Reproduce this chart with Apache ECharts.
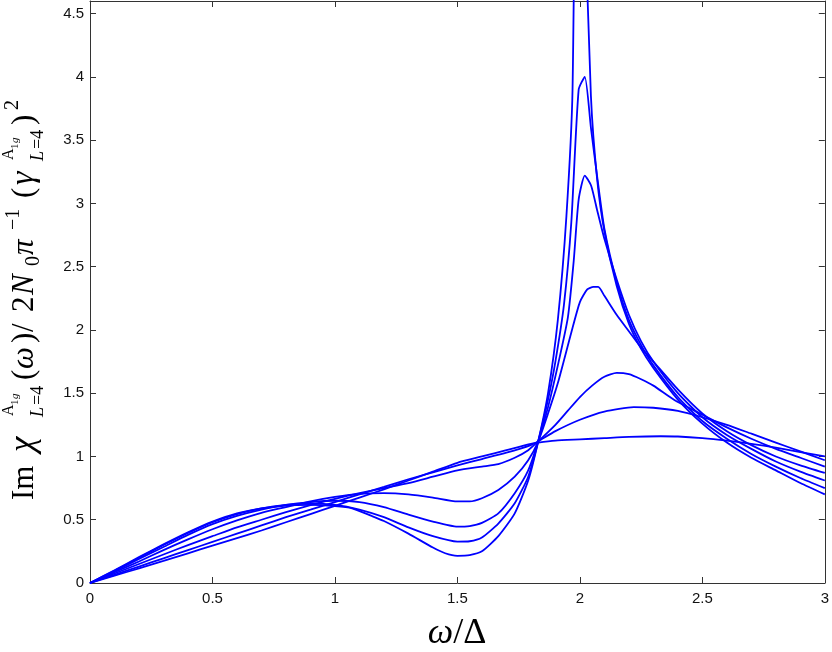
<!DOCTYPE html>
<html><head><meta charset="utf-8">
<script src="https://cdn.jsdelivr.net/npm/echarts@6/dist/echarts.min.js"></script>
<style>html,body{margin:0;padding:0;background:#fff}#c{width:832px;height:652px}</style>
</head><body><div id="c"></div>
<script>
var xTicks = [0, 0.5, 1, 1.5, 2, 2.5, 3];
var yTicks = [0, 0.5, 1, 1.5, 2, 2.5, 3, 3.5, 4, 4.5];

var curveA = [[0,0],[0.1,0.1],[0.2,0.205],[0.3,0.305],[0.4,0.4],[0.5,0.485],[0.6,0.55],[0.7,0.59],[0.8,0.612],[0.9,0.617],[1.0,0.607],[1.07,0.59],[1.15,0.53],[1.2,0.49],[1.3,0.39],[1.4,0.28],[1.45,0.235],[1.5,0.215],[1.55,0.22],[1.6,0.25],[1.667,0.37],[1.734,0.55],[1.789,0.81],[1.83,1.12],[1.87,1.5],[1.91,2.08],[1.945,2.9],[1.97,3.9],[1.995,8.0],[2.02,5.4],[2.045,3.85],[2.07,3.2],[2.1,2.78],[2.15,2.35],[2.2,2.05],[2.25,1.85],[2.3,1.7],[2.4,1.45],[2.5,1.26],[2.6,1.11],[2.7,0.99],[2.8,0.89],[2.9,0.79],[3.0,0.70]];
var curveB = [[0,0],[0.1,0.097],[0.2,0.2],[0.3,0.3],[0.4,0.395],[0.5,0.48],[0.6,0.545],[0.7,0.59],[0.8,0.617],[0.9,0.627],[1.0,0.617],[1.1,0.58],[1.2,0.52],[1.3,0.44],[1.4,0.37],[1.5,0.327],[1.55,0.33],[1.6,0.36],[1.667,0.47],[1.734,0.63],[1.789,0.84],[1.83,1.12],[1.87,1.45],[1.9,1.75],[1.935,2.2],[1.965,2.85],[1.995,3.9],[2.02,4.0],[2.045,3.6],[2.07,3.22],[2.1,2.8],[2.15,2.38],[2.2,2.08],[2.25,1.88],[2.3,1.72],[2.4,1.47],[2.5,1.28],[2.6,1.14],[2.7,1.02],[2.8,0.92],[2.9,0.83],[3.0,0.75]];
var curveC = [[0,0],[0.1,0.092],[0.2,0.19],[0.3,0.285],[0.4,0.38],[0.5,0.465],[0.6,0.53],[0.7,0.58],[0.8,0.618],[0.9,0.64],[1.0,0.65],[1.1,0.64],[1.2,0.6],[1.3,0.54],[1.4,0.485],[1.5,0.445],[1.55,0.45],[1.6,0.475],[1.667,0.55],[1.734,0.71],[1.789,0.89],[1.83,1.12],[1.87,1.39],[1.91,1.72],[1.951,2.1],[1.975,2.55],[1.995,3.03],[2.02,3.22],[2.046,3.14],[2.07,2.95],[2.1,2.72],[2.15,2.4],[2.2,2.12],[2.25,1.91],[2.3,1.75],[2.4,1.5],[2.5,1.31],[2.6,1.17],[2.7,1.06],[2.8,0.96],[2.9,0.88],[3.0,0.81]];
var curveD = [[0,0],[0.1,0.085],[0.2,0.17],[0.3,0.26],[0.4,0.345],[0.5,0.425],[0.6,0.495],[0.7,0.555],[0.8,0.6],[0.9,0.645],[1.0,0.68],[1.1,0.705],[1.2,0.71],[1.3,0.7],[1.4,0.675],[1.5,0.645],[1.55,0.645],[1.6,0.67],[1.667,0.735],[1.734,0.84],[1.789,0.97],[1.83,1.12],[1.87,1.34],[1.91,1.58],[1.965,1.98],[2.0,2.22],[2.03,2.32],[2.055,2.34],[2.075,2.34],[2.1,2.27],[2.15,2.12],[2.2,1.99],[2.25,1.86],[2.3,1.75],[2.4,1.53],[2.5,1.34],[2.6,1.2],[2.7,1.09],[2.8,1.0],[2.9,0.93],[3.0,0.87]];
var curveE = [[0,0],[0.1,0.075],[0.2,0.15],[0.3,0.225],[0.4,0.3],[0.5,0.37],[0.6,0.44],[0.7,0.5],[0.8,0.56],[0.9,0.615],[1.0,0.665],[1.1,0.71],[1.2,0.75],[1.3,0.79],[1.4,0.84],[1.5,0.89],[1.6,0.92],[1.667,0.94],[1.734,0.99],[1.789,1.05],[1.83,1.12],[1.9,1.25],[1.95,1.36],[2.0,1.47],[2.05,1.56],[2.1,1.63],[2.15,1.66],[2.2,1.65],[2.25,1.61],[2.3,1.56],[2.36,1.48],[2.4,1.43],[2.5,1.33],[2.6,1.23],[2.7,1.14],[2.8,1.06],[2.9,0.99],[3.0,0.92]];
var curveF = [[0,0],[0.1,0.065],[0.2,0.13],[0.3,0.195],[0.4,0.26],[0.5,0.325],[0.6,0.39],[0.7,0.455],[0.8,0.52],[0.9,0.58],[1.0,0.64],[1.1,0.7],[1.2,0.76],[1.3,0.82],[1.4,0.875],[1.5,0.93],[1.6,0.98],[1.7,1.03],[1.8,1.09],[1.83,1.12],[1.9,1.2],[2.0,1.29],[2.1,1.355],[2.22,1.39],[2.3,1.385],[2.4,1.36],[2.5,1.31],[2.6,1.25],[2.7,1.18],[2.8,1.11],[2.9,1.04],[3.0,0.97]];
var curveG = [[0,0],[0.1,0.058],[0.2,0.116],[0.3,0.175],[0.4,0.235],[0.5,0.295],[0.6,0.355],[0.7,0.415],[0.8,0.48],[0.9,0.545],[1.0,0.61],[1.1,0.675],[1.2,0.74],[1.3,0.81],[1.4,0.88],[1.5,0.95],[1.6,1.0],[1.7,1.05],[1.8,1.1],[1.83,1.11],[1.9,1.125],[2.0,1.135],[2.1,1.145],[2.2,1.155],[2.33,1.16],[2.4,1.158],[2.5,1.145],[2.6,1.125],[2.7,1.1],[2.8,1.07],[2.9,1.035],[3.0,1.0]];

var curves = [curveA, curveB, curveC, curveD, curveE, curveF, curveG];

var chart = echarts.init(document.getElementById('c'), null, {renderer: 'canvas'});
var axisCol = '#333';
var labFont = {fontFamily: 'Liberation Sans, Arial, sans-serif', fontSize: 15, color: '#111'};
function xAx(pos, show) {
  return {type: 'value', min: 0, max: 3, interval: 0.5, position: pos,
    axisLine: {show: true, onZero: false, lineStyle: {color: axisCol, width: 1}},
    axisTick: {show: true, inside: true, length: 6, lineStyle: {color: axisCol}},
    axisLabel: Object.assign({show: show, margin: 8, formatter: function(v){return String(v);}}, labFont),
    splitLine: {show: false}};
}
function yAx(pos, show) {
  return {type: 'value', min: 0, max: 4.6, interval: 0.5, position: pos,
    axisLine: {show: true, onZero: false, lineStyle: {color: axisCol, width: 1}},
    axisTick: {show: true, inside: true, length: 6, lineStyle: {color: axisCol}},
    axisLabel: Object.assign({show: show, margin: 6, showMaxLabel: false,
      formatter: function(v){ return yTicks.indexOf(+v.toFixed(2)) >= 0 ? String(+v.toFixed(2)) : ''; }}, labFont),
    splitLine: {show: false}};
}
var serif = '"Liberation Serif", "DejaVu Serif", serif';
// x: position along the reading direction, b: baseline offset (negative = raised)
function t(text, x, b, size, italic) {
  return {type: 'text', style: {text: text, x: x, y: b - 0.8 * size,
    font: (italic ? 'italic ' : '') + size + 'px ' + serif, fill: '#000'}};
}
var yLabel = [
  t('Im', 0, 0, 31, false),
  t('\u03c7', 48, 0, 35, true),
  t('A', 84, -20, 16, false),
  t('1', 95, -16, 11, false),
  t('g', 101, -16, 11, true),
  t('L', 83, 10, 18, true),
  t('=4', 95, 10, 18, false),
  t('(', 120, 0, 31, false),
  t('\u03c9', 131, 0, 31, true),
  t(')', 157, 0, 31, false),
  t('/', 168, 0, 31, false),
  t('2', 188, 0, 31, false),
  t('N', 205, 0, 31, true),
  t('0', 234, 6, 20, false),
  t('\u03c0', 245, 0, 31, true),
  t('\u22121', 270, -14, 20, false),
  t('(', 302, 0, 31, false),
  t('\u03b3', 315, 0, 34, true),
  t('A', 340, -20, 16, false),
  t('1', 351, -16, 11, false),
  t('g', 357, -16, 11, true),
  t('L', 339, 10, 18, true),
  t('=4', 351, 10, 18, false),
  t(')', 375, 0, 31, false),
  t('2', 390, -15, 20, false)
];

var option = {
  backgroundColor: '#fff',
  animation: false,
  grid: {left: 90, right: 4, top: 1, bottom: 69, containLabel: false},
  xAxis: [xAx('bottom', true), xAx('top', false)],
  yAxis: [yAx('left', true), yAx('right', false)],
  series: curves.map(function(d){
    return {type: 'line', data: d, xAxisIndex: 0, yAxisIndex: 0, showSymbol: false, symbol: 'none',
      smooth: 0.2, clip: true, lineStyle: {color: '#0000ff', width: 1.8}};
  }),
  graphic: [
    {type: 'group', x: 34, y: 500, rotation: Math.PI / 2, children: yLabel},
    {type: 'text', style: {
      text: '{i|\u03c9}/\u0394', x: 457, y: 616, align: 'center',
      rich: {i: {font: 'italic 36px ' + serif}},
      font: '36px ' + serif, fill: '#000'}}
  ]
};
chart.setOption(option);
</script></body></html>
